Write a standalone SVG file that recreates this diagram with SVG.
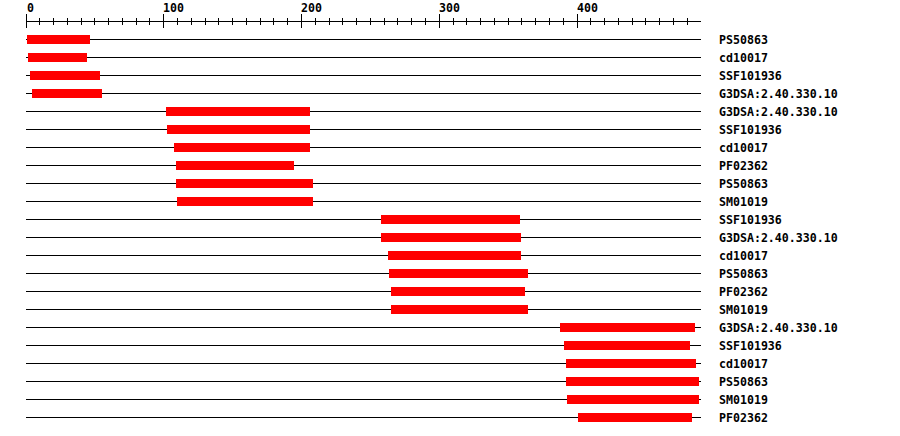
<svg xmlns="http://www.w3.org/2000/svg" width="900" height="436" viewBox="0 0 900 436">
<style>
.t{font-family:"DejaVu Sans Mono","Liberation Mono",monospace;font-weight:bold;font-size:11.6px;fill:#000}
.ln{stroke:#000;stroke-width:1;fill:none;shape-rendering:crispEdges}
.bar{fill:#ff0000;shape-rendering:crispEdges}
</style>
<rect width="900" height="436" fill="#fff"/>
<g id="ruler">
<path class="ln" d="M26 21.5H701"/>
<path class="ln" d="M26.5 14V28M163.5 14V28M301.5 14V28M439.5 14V28M577.5 14V28"/>
<path class="ln" d="M39.5 18V25M53.5 18V25M67.5 18V25M81.5 18V25M94.5 18V25M108.5 18V25M122.5 18V25M136.5 18V25M149.5 18V25M177.5 18V25M191.5 18V25M205.5 18V25M218.5 18V25M232.5 18V25M246.5 18V25M260.5 18V25M273.5 18V25M287.5 18V25M315.5 18V25M329.5 18V25M342.5 18V25M356.5 18V25M370.5 18V25M384.5 18V25M397.5 18V25M411.5 18V25M425.5 18V25M453.5 18V25M466.5 18V25M480.5 18V25M494.5 18V25M508.5 18V25M521.5 18V25M535.5 18V25M549.5 18V25M563.5 18V25M590.5 18V25M604.5 18V25M618.5 18V25M632.5 18V25M645.5 18V25M659.5 18V25M673.5 18V25M687.5 18V25"/>
<text class="t" x="27" y="12">0</text>
<text class="t" x="163" y="12">100</text>
<text class="t" x="301" y="12">200</text>
<text class="t" x="439" y="12">300</text>
<text class="t" x="577" y="12">400</text>
</g>
<g id="connectors">
<path class="ln" d="M26 39.5H701M26 57.5H701M26 75.5H701M26 93.5H701M26 111.5H701M26 129.5H701M26 147.5H701M26 165.5H701M26 183.5H701M26 201.5H701M26 219.5H701M26 237.5H701M26 255.5H701M26 273.5H701M26 291.5H701M26 309.5H701M26 327.5H701M26 345.5H701M26 363.5H701M26 381.5H701M26 399.5H701M26 417.5H701"/>
</g>
<g id="row1"><rect class="bar" x="27" y="35" width="63" height="9"/><text class="t" x="719" y="43.5">PS50863</text></g>
<g id="row2"><rect class="bar" x="28" y="53" width="59" height="9"/><text class="t" x="719" y="61.5">cd10017</text></g>
<g id="row3"><rect class="bar" x="30" y="71" width="70" height="9"/><text class="t" x="719" y="79.5">SSF101936</text></g>
<g id="row4"><rect class="bar" x="32" y="89" width="70" height="9"/><text class="t" x="719" y="97.5">G3DSA:2.40.330.10</text></g>
<g id="row5"><rect class="bar" x="166" y="107" width="144" height="9"/><text class="t" x="719" y="115.5">G3DSA:2.40.330.10</text></g>
<g id="row6"><rect class="bar" x="167" y="125" width="143" height="9"/><text class="t" x="719" y="133.5">SSF101936</text></g>
<g id="row7"><rect class="bar" x="174" y="143" width="136" height="9"/><text class="t" x="719" y="151.5">cd10017</text></g>
<g id="row8"><rect class="bar" x="176" y="161" width="118" height="9"/><text class="t" x="719" y="169.5">PF02362</text></g>
<g id="row9"><rect class="bar" x="176" y="179" width="137" height="9"/><text class="t" x="719" y="187.5">PS50863</text></g>
<g id="row10"><rect class="bar" x="177" y="197" width="136" height="9"/><text class="t" x="719" y="205.5">SM01019</text></g>
<g id="row11"><rect class="bar" x="381" y="215" width="139" height="9"/><text class="t" x="719" y="223.5">SSF101936</text></g>
<g id="row12"><rect class="bar" x="381" y="233" width="140" height="9"/><text class="t" x="719" y="241.5">G3DSA:2.40.330.10</text></g>
<g id="row13"><rect class="bar" x="388" y="251" width="133" height="9"/><text class="t" x="719" y="259.5">cd10017</text></g>
<g id="row14"><rect class="bar" x="389" y="269" width="139" height="9"/><text class="t" x="719" y="277.5">PS50863</text></g>
<g id="row15"><rect class="bar" x="391" y="287" width="134" height="9"/><text class="t" x="719" y="295.5">PF02362</text></g>
<g id="row16"><rect class="bar" x="391" y="305" width="137" height="9"/><text class="t" x="719" y="313.5">SM01019</text></g>
<g id="row17"><rect class="bar" x="560" y="323" width="135" height="9"/><text class="t" x="719" y="331.5">G3DSA:2.40.330.10</text></g>
<g id="row18"><rect class="bar" x="564" y="341" width="126" height="9"/><text class="t" x="719" y="349.5">SSF101936</text></g>
<g id="row19"><rect class="bar" x="566" y="359" width="130" height="9"/><text class="t" x="719" y="367.5">cd10017</text></g>
<g id="row20"><rect class="bar" x="566" y="377" width="133" height="9"/><text class="t" x="719" y="385.5">PS50863</text></g>
<g id="row21"><rect class="bar" x="567" y="395" width="132" height="9"/><text class="t" x="719" y="403.5">SM01019</text></g>
<g id="row22"><rect class="bar" x="578" y="413" width="114" height="9"/><text class="t" x="719" y="421.5">PF02362</text></g>
</svg>
